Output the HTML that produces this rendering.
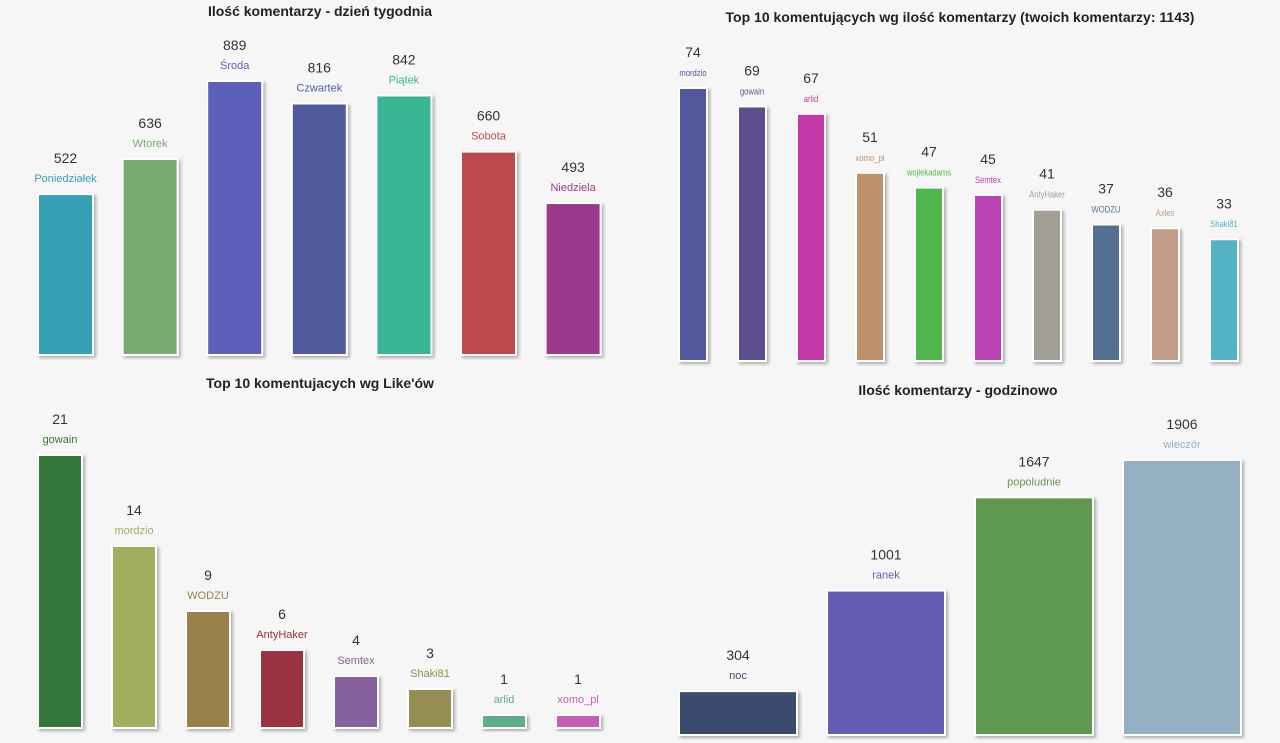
<!DOCTYPE html>
<html><head><meta charset="utf-8">
<style>
body{margin:0;width:1280px;height:743px;background:#f6f6f6;overflow:hidden;font-family:"Liberation Sans",sans-serif;}
svg{position:absolute;left:0;top:0}
.t{font-weight:bold;font-size:14px;fill:#222;text-anchor:middle}
.v{font-size:14px;fill:#333;text-anchor:middle}
.n{font-size:11px;text-anchor:middle}
.ns{font-size:9px;text-anchor:middle}
</style></head>
<body>
<svg id="c" width="1280" height="743">
<defs><filter id="sh" x="-20%" y="-20%" width="150%" height="150%"><feDropShadow dx="2" dy="2" stdDeviation="1.5" flood-color="#000" flood-opacity="0.3"/></filter></defs>
<text class="t" x="320" y="16">Ilość komentarzy - dzień tygodnia</text>
<text class="t" x="960" y="22">Top 10 komentujących wg ilość komentarzy (twoich komentarzy: 1143)</text>
<text class="t" x="320" y="388">Top 10 komentujacych wg Like'ów</text>
<text class="t" x="958" y="395">Ilość komentarzy - godzinowo</text>
</svg>
<script>
const dayCats=["Poniedziałek","Wtorek","Środa","Czwartek","Piątek","Sobota","Niedziela"];
const dayVals=[522,636,889,816,842,660,493];
const dayColors=["#35a0b4","#78ab6f","#5b60bb","#4f5a9c","#37b592","#bd4a4e","#9c388c"];
const topCats=["mordzio","gowain","arlid","xomo_pl","wojlekadams","Semtex","AntyHaker","WODZU","Axles","Shaki81"];
const topVals=[74,69,67,51,47,45,41,37,36,33];
const topColors=["#52589c","#5d4f8c","#c537a9","#bf916a","#52b54e","#b942b4","#a29f94","#527093","#c29d8a","#52b3c4"];
const likeCats=["gowain","mordzio","WODZU","AntyHaker","Semtex","Shaki81","arlid","xomo_pl"];
const likeVals=[21,14,9,6,4,3,1,1];
const likeColors=["#35773b","#a3ae5f","#9a804c","#9a323f","#85619b","#948e52","#61ac8a","#c55fb6"];
const hourCats=["noc","ranek","popoludnie","wieczór"];
const hourVals=[304,1001,1647,1906];
const hourColors=["#3a4c6e","#655cb5","#5f9850","#95afc3"];
const svg=document.getElementById('c');
const NS="http://www.w3.org/2000/svg";
function draw(cfg,cats,vals,colors){
  const max=Math.max(...vals);
  const yScale=v=>v/max*cfg.h;
  cats.forEach((c,i)=>{
    const x=cfg.x0+i*cfg.pitch;
    const h=yScale(vals[i]);
    const top=cfg.bottom-h;
    const r=document.createElementNS(NS,'rect');
    r.setAttribute('x',x);r.setAttribute('y',top);r.setAttribute('width',cfg.w);r.setAttribute('height',h);
    r.setAttribute('fill',colors[i]);r.setAttribute('stroke','#fff');r.setAttribute('stroke-width','2');
    r.setAttribute('filter','url(#sh)');
    
    
    svg.appendChild(r);
    const v=document.createElementNS(NS,'text');
    v.setAttribute('class','v');v.setAttribute('x',x+cfg.w/2);v.setAttribute('y',top-31);
    v.textContent=vals[i];
    
    
    svg.appendChild(v);
    const n=document.createElementNS(NS,'text');
    n.setAttribute('class',cfg.small?'ns':'n');n.setAttribute('x',x+cfg.w/2);n.setAttribute('y',top-12);
    n.setAttribute('fill',colors[i]);
    if(cfg.small){n.setAttribute('transform','translate('+(x+cfg.w/2)+',0) scale(0.85,1) translate('+(-(x+cfg.w/2))+',0)');}
    n.textContent=c;
    
    
    svg.appendChild(n);
  });
}
draw({id:'weekday',x0:38,pitch:84.6,w:55,bottom:355,h:274},dayCats,dayVals,dayColors);
draw({id:'top-commenters',x0:679,pitch:59,w:28,bottom:361,h:273,small:true},topCats,topVals,topColors);
draw({id:'likes',x0:38,pitch:74,w:44,bottom:728,h:273},likeCats,likeVals,likeColors);
draw({id:'hourly',x0:679,pitch:148,w:118,bottom:735,h:275},hourCats,hourVals,hourColors);
</script>
</body></html>
